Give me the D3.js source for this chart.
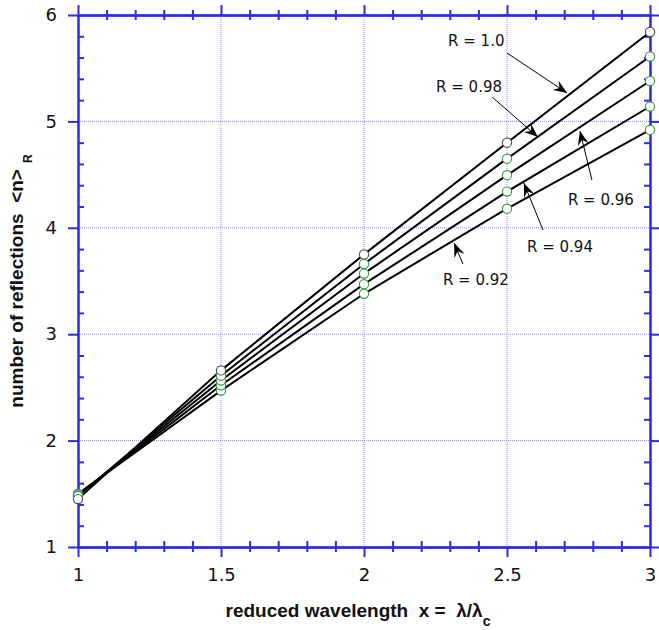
<!DOCTYPE html>
<html>
<head>
<meta charset="utf-8">
<script src="https://cdn.jsdelivr.net/npm/d3@7"></script>
<style>
  body { margin: 0; background: #fff; }
  svg { display: block; }
</style>
</head>
<body>
<svg id="chart" width="659" height="630"></svg>
<script>
// reduced wavelength samples
const xValues = [1, 1.5, 2, 2.5, 3];
// mean number of reflections for each reflectivity R
const seriesNames = ['1.0', '0.98', '0.96', '0.94', '0.92'];
const nR100 = [1.45, 2.66, 3.75, 4.80, 5.84];
const nR098 = [1.48, 2.61, 3.66, 4.65, 5.61];
const nR096 = [1.485, 2.565, 3.57, 4.495, 5.38];
const nR094 = [1.49, 2.52, 3.47, 4.34, 5.14];
const nR092 = [1.50, 2.47, 3.38, 4.18, 4.92];

const xTicks = [1, 1.5, 2, 2.5, 3];
const yTicks = [1, 2, 3, 4, 5, 6];

// annotations: label, text start [x, y], arrow tail, arrow tip (data units)
const annotLabels = ['R = 1.0', 'R = 0.98', 'R = 0.96', 'R = 0.94', 'R = 0.92'];
const annotText = [[2.294, 5.709], [2.252, 5.276], [2.713, 4.214], [2.570, 3.773], [2.276, 3.462]];
const annotTail = [[2.500, 5.643], [2.448, 5.229], [2.797, 4.449], [2.626, 3.979], [2.346, 3.660]];
const annotTip = [[2.710, 5.267], [2.608, 4.853], [2.755, 4.910], [2.559, 4.421], [2.315, 3.857]];

const margin = {top: 15, right: 9, bottom: 83, left: 78};
const svg = d3.select('#chart');
const width = +svg.attr('width');
const height = +svg.attr('height');
const axisColor = '#2b2be8';

const xScale = d3.scaleLinear().domain([1, 3]).range([margin.left, width - margin.right]);
const yScale = d3.scaleLinear().domain([1, 6]).range([height - margin.bottom, margin.top]);

const xMinor = d3.range(1, 3.001, 0.1).map(v => +v.toFixed(2)).filter(v => !xTicks.includes(v));
const yMinor = d3.range(1, 6.001, 0.2).map(v => +v.toFixed(2)).filter(v => !yTicks.includes(v));

// grid lines
const grid = svg.append('g').attr('class', 'grid')
    .attr('stroke', '#8f8fff').attr('stroke-width', 1).attr('stroke-dasharray', '1,1');
grid.selectAll('.gx').data(xTicks.slice(1, -1)).enter().append('line')
    .attr('x1', d => xScale(d)).attr('x2', d => xScale(d))
    .attr('y1', yScale(1)).attr('y2', yScale(6));
grid.selectAll('.gy').data(yTicks.slice(1, -1)).enter().append('line')
    .attr('y1', d => yScale(d)).attr('y2', d => yScale(d))
    .attr('x1', xScale(1)).attr('x2', xScale(3));

function styleAxis(g, labels){
    g.selectAll('path, line').attr('stroke', axisColor).attr('stroke-width', 2);
    g.selectAll('text')
        .attr('fill', '#111')
        .attr('font-family', 'DejaVu Sans, sans-serif')
        .attr('font-size', 18);
    if(!labels) g.selectAll('text').remove();
}

const bottomY = yScale(1), topY = yScale(6), leftX = xScale(1), rightX = xScale(3);

// bottom axis
svg.append('g').attr('transform', 'translate(0,' + bottomY + ')')
    .call(d3.axisBottom(xScale).tickValues(xTicks).tickSize(10).tickSizeOuter(0).tickPadding(11)
        .tickFormat(d3.format('')))
    .call(g => styleAxis(g, true));
svg.append('g').attr('transform', 'translate(0,' + bottomY + ')')
    .call(d3.axisBottom(xScale).tickValues(xMinor).tickSize(5).tickSizeOuter(0))
    .call(g => styleAxis(g, false));
svg.append('g').attr('transform', 'translate(0,' + bottomY + ')')
    .call(d3.axisTop(xScale).tickValues(xMinor).tickSize(6).tickSizeOuter(0))
    .call(g => styleAxis(g, false));

// top axis
svg.append('g').attr('transform', 'translate(0,' + topY + ')')
    .call(d3.axisTop(xScale).tickValues(xTicks).tickSize(10).tickSizeOuter(0))
    .call(g => styleAxis(g, false));
svg.append('g').attr('transform', 'translate(0,' + topY + ')')
    .call(d3.axisTop(xScale).tickValues(xMinor).tickSize(5).tickSizeOuter(0))
    .call(g => styleAxis(g, false));
svg.append('g').attr('transform', 'translate(0,' + topY + ')')
    .call(d3.axisBottom(xScale).tickValues(xMinor).tickSize(5).tickSizeOuter(0))
    .call(g => styleAxis(g, false));

// left axis
svg.append('g').attr('transform', 'translate(' + leftX + ',0)')
    .call(d3.axisLeft(yScale).tickValues(yTicks).tickSize(10).tickSizeOuter(0).tickPadding(11)
        .tickFormat(d3.format('d')))
    .call(g => styleAxis(g, true));
svg.append('g').attr('transform', 'translate(' + leftX + ',0)')
    .call(d3.axisRight(yScale).tickValues(yMinor).tickSize(6).tickSizeOuter(0))
    .call(g => styleAxis(g, false));

// right axis
svg.append('g').attr('transform', 'translate(' + rightX + ',0)')
    .call(d3.axisRight(yScale).tickValues(yTicks).tickSize(10).tickSizeOuter(0))
    .call(g => styleAxis(g, false));
svg.append('g').attr('transform', 'translate(' + rightX + ',0)')
    .call(d3.axisLeft(yScale).tickValues(yMinor).tickSize(6).tickSizeOuter(0))
    .call(g => styleAxis(g, false));

// curves
const allSeries = [nR100, nR098, nR096, nR094, nR092].map((vals, i) => ({
    name: seriesNames[i],
    points: vals.map((v, j) => [xValues[j], v])
}));

const lineGen = d3.line()
    .x(d => xScale(d[0]))
    .y(d => yScale(d[1]));

svg.append('g').selectAll('path')
    .data(allSeries)
    .enter()
    .append('path')
    .attr('d', d => lineGen(d.points))
    .attr('fill', 'none')
    .attr('stroke', '#000')
    .attr('stroke-width', 2);

// markers; R = 1.0 drawn last so it sits on top
svg.append('g').selectAll('g')
    .data(allSeries.slice().reverse())
    .enter()
    .append('g')
    .selectAll('circle')
    .data(d => d.points.map(p => ({name: d.name, p: p})))
    .enter()
    .append('circle')
    .attr('cx', d => xScale(d.p[0]))
    .attr('cy', d => yScale(d.p[1]))
    .attr('r', 4.6)
    .attr('fill', '#fff')
    .attr('stroke', d => d.name === '1.0' ? '#555' : '#3d9a4a')
    .attr('stroke-width', 1.2);

// arrow head marker
svg.append('defs').append('marker')
    .attr('id', 'arrowHead')
    .attr('viewBox', '-14 -6 16 12')
    .attr('refX', 0).attr('refY', 0)
    .attr('markerWidth', 16).attr('markerHeight', 12)
    .attr('markerUnits', 'userSpaceOnUse')
    .attr('orient', 'auto')
    .append('path')
    .attr('d', 'M0,0 L-14,-5.5 L-9,0 L-14,5.5 Z')
    .attr('fill', '#000');

const annot = svg.append('g');
annot.selectAll('line')
    .data(annotLabels)
    .enter()
    .append('line')
    .attr('x1', (d, i) => xScale(annotTail[i][0]))
    .attr('y1', (d, i) => yScale(annotTail[i][1]))
    .attr('x2', (d, i) => xScale(annotTip[i][0]))
    .attr('y2', (d, i) => yScale(annotTip[i][1]))
    .attr('stroke', '#000')
    .attr('stroke-width', 1)
    .attr('marker-end', 'url(#arrowHead)');
annot.selectAll('text')
    .data(annotLabels)
    .enter()
    .append('text')
    .attr('x', (d, i) => xScale(annotText[i][0]))
    .attr('y', (d, i) => yScale(annotText[i][1]))
    .attr('font-family', 'DejaVu Sans, sans-serif')
    .attr('font-size', 15)
    .attr('fill', '#111')
    .text(d => d);

// axis titles
const xTitle = svg.append('text')
    .attr('x', (leftX + rightX) / 2 - 6)
    .attr('y', 617)
    .attr('text-anchor', 'middle')
    .attr('font-family', 'Liberation Sans, Arial, sans-serif')
    .attr('font-weight', 'bold')
    .attr('font-size', 19)
    .attr('fill', '#111');
xTitle.append('tspan').text('reduced wavelength\u00a0\u00a0x =\u00a0\u00a0\u03bb/\u03bb');
xTitle.append('tspan').attr('dy', 9).attr('font-size', 14).text('c');

const yTitle = svg.append('text')
    .attr('transform', 'translate(23,' + 281 + ') rotate(-90)')
    .attr('text-anchor', 'middle')
    .attr('font-family', 'Liberation Sans, Arial, sans-serif')
    .attr('font-weight', 'bold')
    .attr('font-size', 19)
    .attr('fill', '#111');
yTitle.append('tspan').text('number of reflections\u00a0\u00a0<n>');
yTitle.append('tspan').attr('dy', 9).attr('dx', 6).attr('font-size', 12).text('R');
</script>
</body>
</html>
